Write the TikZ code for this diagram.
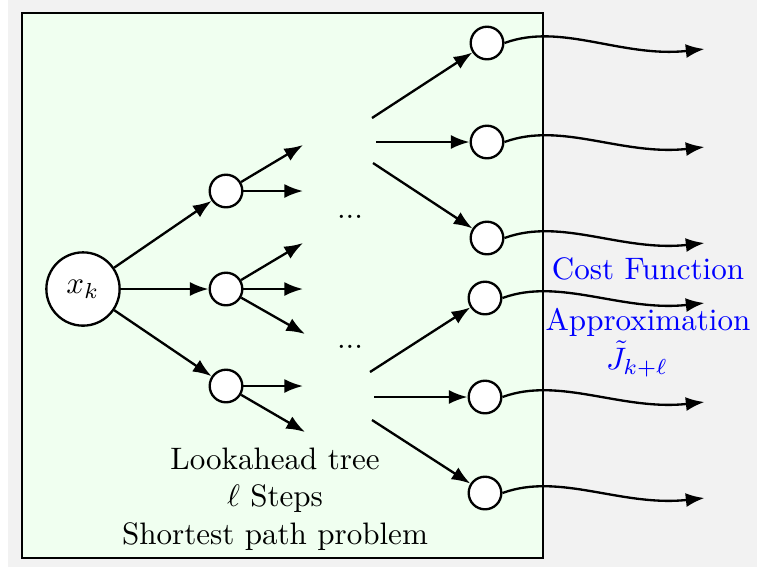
\documentclass[tikz,border=0pt]{standalone}
\usepackage{tikz}
\usepackage{xcolor}
\usepackage{amsmath}
\usepackage{amssymb}
\usetikzlibrary{shapes,arrows,arrows.meta,positioning,calc}
\definecolor{panelgray}{RGB}{242,242,242}
\definecolor{treegreen}{RGB}{240,255,240}

\begin{document}
\begin{tikzpicture}[x=0.322pt,y=-0.322pt,line width=0.75pt,>={Latex[length=6pt,width=4.5pt]},
  statenode/.style={circle,draw,fill=white,minimum size=10.5pt,inner sep=0pt}]

  \useasboundingbox[fill=white] (0,0) rectangle (757,567);
  \fill[panelgray] (8,0) rectangle (757,567);
  \draw[fill=treegreen] (22,13) rectangle (543,558);

  % root and first step
  \node[circle,draw,fill=white,minimum size=23.6pt,inner sep=0pt] (xk) at (83,289) {$x_k$};
  \node[statenode] (a1) at (226,191) {};
  \node[statenode] (a2) at (226,289) {};
  \node[statenode] (a3) at (226,386) {};

  \draw[->] (xk) -- (a1);
  \draw[->] (xk) -- (a2);
  \draw[->] (xk) -- (a3);

  % open branches
  \coordinate (b1) at ($(a1)+(77,-46)$);
  \coordinate (b2) at ($(a1)+(77,0)$);
  \coordinate (b3) at ($(a2)+(77,-46)$);
  \coordinate (b4) at ($(a2)+(77,0)$);
  \coordinate (b5) at ($(a2)+(79,45)$);
  \coordinate (b6) at ($(a3)+(77,0)$);
  \coordinate (b7) at ($(a3)+(79,46)$);

  \draw[->] (a1) -- (b1);
  \draw[->] (a1) -- (b2);
  \draw[->] (a2) -- (b3);
  \draw[->] (a2) -- (b4);
  \draw[->] (a2) -- (b5);
  \draw[->] (a3) -- (b6);
  \draw[->] (a3) -- (b7);

  \node (dots1) at (350,217) {...};
  \node (dots2) at (350,347) {...};

  % last step
  \node[statenode] (l1) at (487,43) {};
  \node[statenode] (l2) at (487,142) {};
  \node[statenode] (l3) at (487,238) {};
  \node[statenode] (l4) at (485,298) {};
  \node[statenode] (l5) at (485,397) {};
  \node[statenode] (l6) at (485,493) {};

  \coordinate (c1) at ($(l1)+(-115,75)$);
  \coordinate (c2) at ($(l2)+(-111,0)$);
  \coordinate (c3) at ($(l3)+(-114,-75)$);
  \coordinate (c4) at ($(l4)+(-115,74)$);
  \coordinate (c5) at ($(l5)+(-111,0)$);
  \coordinate (c6) at ($(l6)+(-113,-73)$);

  \draw[->] (c1) -- (l1);
  \draw[->] (c2) -- (l2);
  \draw[->] (c3) -- (l3);
  \draw[->] (c4) -- (l4);
  \draw[->] (c5) -- (l5);
  \draw[->] (c6) -- (l6);

  % cost function approximation
  \coordinate (e1) at ($(l1.east)+(200,6)$);
  \coordinate (e2) at ($(l2.east)+(200,5)$);
  \coordinate (e3) at ($(l3.east)+(200,5)$);
  \coordinate (e4) at ($(l4.east)+(202,5)$);
  \coordinate (e5) at ($(l5.east)+(202,5)$);
  \coordinate (e6) at ($(l6.east)+(202,5)$);

  \draw[->] (l1.east) .. controls +(57,-21) and +(-83,9) .. (e1);
  \draw[->] (l2.east) .. controls +(57,-21) and +(-83,9) .. (e2);
  \draw[->] (l3.east) .. controls +(57,-21) and +(-83,9) .. (e3);
  \draw[->] (l4.east) .. controls +(57,-21) and +(-83,9) .. (e4);
  \draw[->] (l5.east) .. controls +(57,-21) and +(-83,9) .. (e5);
  \draw[->] (l6.east) .. controls +(57,-21) and +(-83,9) .. (e6);

  \node[align=center] (tree) at (275,499) {Lookahead tree\\$\ell$ Steps\\Shortest path problem};
  \node[align=center,text=blue] (cost) at (648,317) {Cost Function\\[4.7pt]Approximation\\[0.5pt]$\tilde{J}_{k+\ell}$\hspace*{7pt}};

\end{tikzpicture}
\end{document}
